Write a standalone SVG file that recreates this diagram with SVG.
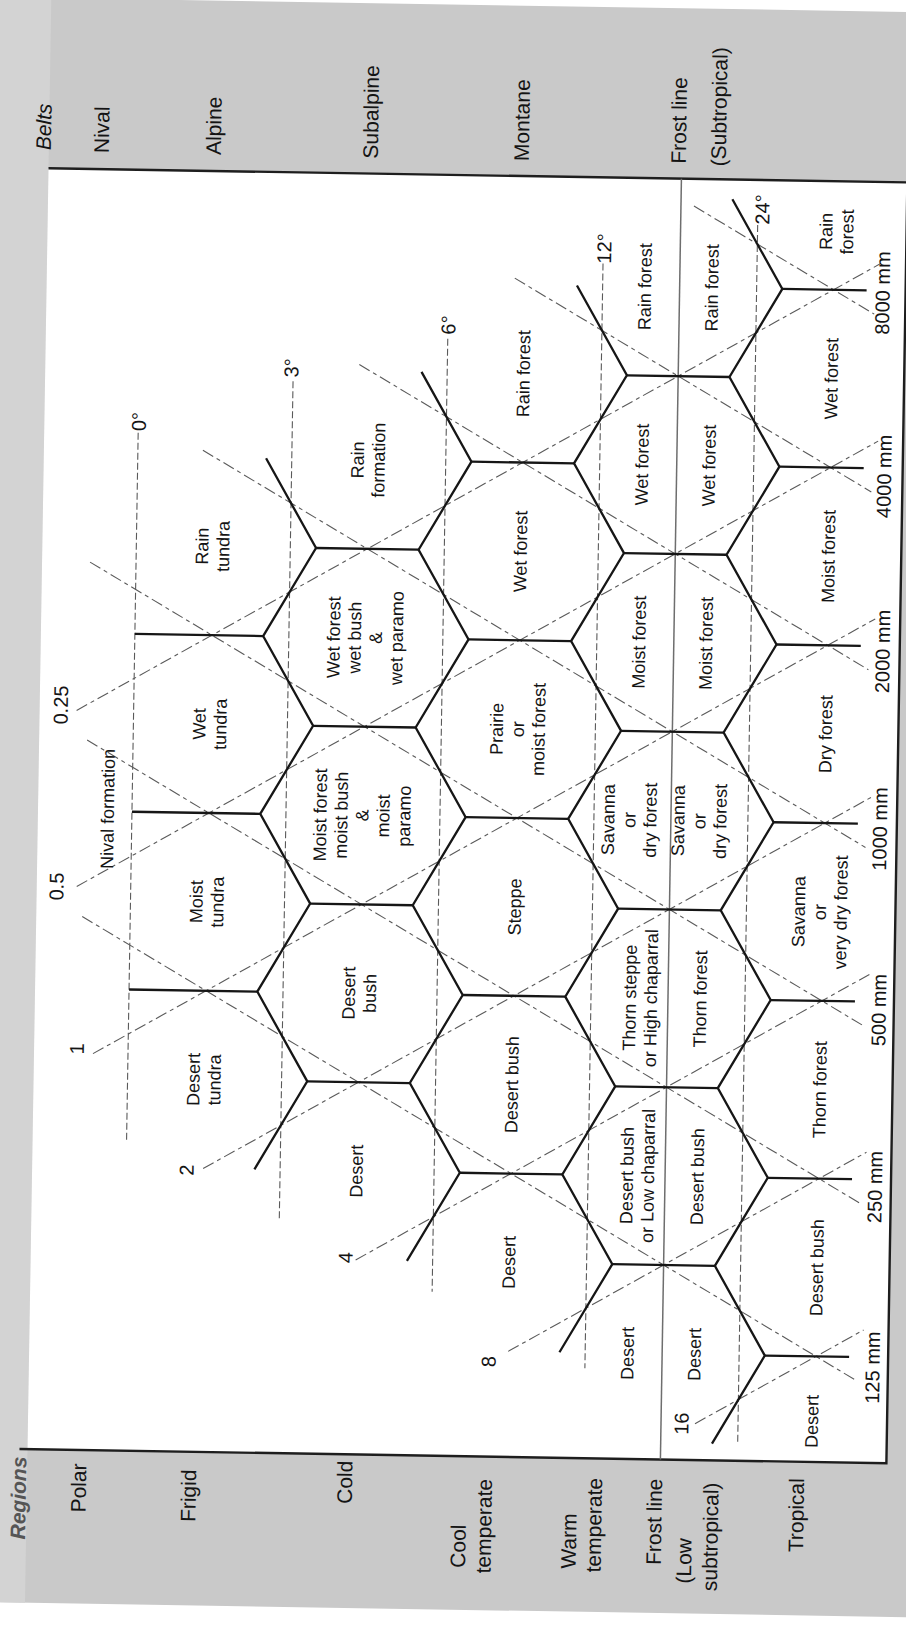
<svg xmlns="http://www.w3.org/2000/svg" width="906" height="1625" viewBox="0 0 906 1625">
<defs>
<style>
.edge{fill:none;stroke:#161616;stroke-width:2.3;stroke-linecap:butt;stroke-linejoin:miter}
.dg{fill:none;stroke:#5a5a5a;stroke-width:1.1;stroke-dasharray:12 4 4 4}
.dt{fill:none;stroke:#5a5a5a;stroke-width:1.1;stroke-dasharray:7 3}
.frost{fill:none;stroke:#6e6e6e;stroke-width:1.5}
.frame{fill:none;stroke:#1e1e1e;stroke-width:2.4}
text{font-family:"Liberation Sans",Arial,sans-serif;fill:#141414}
.l{font-size:18px;text-anchor:middle}
.n{font-size:20px;text-anchor:middle}
.b{font-size:21px;text-anchor:start}
.r{font-size:21px;text-anchor:middle}
.it{font-style:italic}
.bi{font-style:italic;font-weight:bold;fill:#555555}
</style>
</defs>
<rect x="0" y="0" width="906" height="1625" fill="#ffffff"/>
<g transform="rotate(0.94 453 812)">
<g id="background">
<rect x="-60" y="4.6" width="1030" height="1605" fill="#c9c9c9"/>
<rect x="-60" y="4.6" width="98" height="1605" fill="#d3d3d3"/>
<rect x="38" y="175" width="859" height="1281" fill="#ffffff"/>
<path class="frame" d="M38 175 H897 V1456 H30"/>
</g>

<g id="connectors">
<g id="temperature-lines">
<path class="dt" d="M132 438 V1145"/>
<path class="dt" d="M286 384 V1221"/>
<path class="dt" d="M440 339 V1292"/>
<path class="dt" d="M594 261 V1366"/>
<path class="dt" d="M748 220 V1440"/>
</g>
<g id="pet-lines">
<path class="dg" d="M75 716.6 L872 256.4"/>
<path class="dg" d="M78 892.6 L872 434.2"/>
<path class="dg" d="M97 1059.5 L872 612.0"/>
<path class="dg" d="M209 1172.6 L872 789.8"/>
<path class="dg" d="M363 1261.5 L872 967.6"/>
<path class="dg" d="M517 1350.4 L872 1145.4"/>
<path class="dg" d="M705 1419.6 L872 1323.2"/>
</g>
<g id="precipitation-lines">
<path class="dg" d="M684 202.2 L866 307.3"/>
<path class="dg" d="M506 277.2 L866 485.1"/>
<path class="dg" d="M352 366.1 L866 662.9"/>
<path class="dg" d="M197 454.4 L866 840.7"/>
<path class="dg" d="M86 568.1 L866 1018.5"/>
<path class="dg" d="M86 746 L866 1196.3"/>
<path class="dg" d="M84 922.6 L866 1374.1"/>
</g>
<path id="frost-line" class="frost" d="M671 175 V1456"/>
</g>

<g id="hexagon-edges">
<path class="edge" d="M132 639.2 H260.3 M132 817 H260.3 M132 994.8 H260.3"/>
<path class="edge" d="M260.3 461.4 L311.7 550.3 L260.3 639.2 L311.7 728.1 L260.3 817 L311.7 905.9 L260.3 994.8 L311.7 1083.7 L260.3 1172.6"/>
<path class="edge" d="M311.7 550.3 H414.3 M311.7 728.1 H414.3 M311.7 905.9 H414.3 M311.7 1083.7 H414.3"/>
<path class="edge" d="M414.3 372.5 L465.7 461.4 L414.3 550.3 L465.7 639.2 L414.3 728.1 L465.7 817 L414.3 905.9 L465.7 994.8 L414.3 1083.7 L465.7 1172.6 L414.3 1261.5"/>
<path class="edge" d="M465.7 461.4 H568.3 M465.7 639.2 H568.3 M465.7 817 H568.3 M465.7 994.8 H568.3 M465.7 1172.6 H568.3"/>
<path class="edge" d="M568.3 283.6 L619.7 372.5 L568.3 461.4 L619.7 550.3 L568.3 639.2 L619.7 728.1 L568.3 817 L619.7 905.9 L568.3 994.8 L619.7 1083.7 L568.3 1172.6 L619.7 1261.5 L568.3 1350.4"/>
<path class="edge" d="M619.7 372.5 H722.3 M619.7 550.3 H722.3 M619.7 728.1 H722.3 M619.7 905.9 H722.3 M619.7 1083.7 H722.3 M619.7 1261.5 H722.3"/>
<path class="edge" d="M722.3 194.7 L773.7 283.6 L722.3 372.5 L773.7 461.4 L722.3 550.3 L773.7 639.2 L722.3 728.1 L773.7 817 L722.3 905.9 L773.7 994.8 L722.3 1083.7 L773.7 1172.6 L722.3 1261.5 L773.7 1350.4 L722.3 1439.3"/>
<path class="edge" d="M773.7 283.6 H858 M773.7 461.4 H858 M773.7 639.2 H858 M773.7 817 H858 M773.7 994.8 H858 M773.7 1172.6 H858 M773.7 1350.4 H858"/>
</g>

<g id="belts">
<text class="b it" transform="translate(40,157) rotate(-90)">Belts</text>
<text class="b" transform="translate(98,159) rotate(-90)">Nival</text>
<text class="b" transform="translate(210,159) rotate(-90)">Alpine</text>
<text class="b" transform="translate(367,160) rotate(-90)">Subalpine</text>
<text class="b" transform="translate(518,160) rotate(-90)">Montane</text>
<text class="b" transform="translate(675,160) rotate(-90)">Frost line</text>
<text class="b" transform="translate(715,162) rotate(-90)">(Subtropical)</text>
</g>

<g id="regions">
<text class="r bi" transform="translate(37,1505) rotate(-90)">Regions</text>
<text class="r" transform="translate(97,1494) rotate(-90)">Polar</text>
<text class="r" transform="translate(207,1500) rotate(-90)">Frigid</text>
<text class="r" transform="translate(363,1484) rotate(-90)">Cold</text>
<text class="r" transform="translate(477.5,1546) rotate(-90)">Cool</text>
<text class="r" transform="translate(503,1525.5) rotate(-90)">temperate</text>
<text class="r" transform="translate(588,1539) rotate(-90)">Warm</text>
<text class="r" transform="translate(613,1522.7) rotate(-90)">temperate</text>
<text class="r" transform="translate(673,1518.4) rotate(-90)">Frost line</text>
<text class="r" transform="translate(703.5,1557) rotate(-90)">(Low</text>
<text class="r" transform="translate(729.5,1532.5) rotate(-90)">subtropical)</text>
<text class="r" transform="translate(815,1509.4) rotate(-90)">Tropical</text>
</g>

<g id="scale-labels">
<text class="n" transform="translate(66.2,711.4) rotate(-90)">0.25</text>
<text class="n" transform="translate(64.7,893) rotate(-90)">0.5</text>
<text class="n" transform="translate(87.9,1055) rotate(-90)">1</text>
<text class="n" transform="translate(199.6,1174.4) rotate(-90)">2</text>
<text class="n" transform="translate(359.8,1259.3) rotate(-90)">4</text>
<text class="n" transform="translate(504.5,1361) rotate(-90)">8</text>
<text class="n" transform="translate(698.5,1419.8) rotate(-90)">16</text>
<text class="n" transform="translate(139.6,426.8) rotate(-90)">0°</text>
<text class="n" transform="translate(291.2,370.6) rotate(-90)">3°</text>
<text class="n" transform="translate(447.5,325.1) rotate(-90)">6°</text>
<text class="n" transform="translate(602,246) rotate(-90)">12°</text>
<text class="n" transform="translate(759.5,204.5) rotate(-90)">24°</text>
<text class="n" transform="translate(881,286) rotate(-90)">8000 mm</text>
<text class="n" transform="translate(885.5,469.4) rotate(-90)">4000 mm</text>
<text class="n" transform="translate(887,644.5) rotate(-90)">2000 mm</text>
<text class="n" transform="translate(887,822) rotate(-90)">1000 mm</text>
<text class="n" transform="translate(889,1003) rotate(-90)">500 mm</text>
<text class="n" transform="translate(888,1180) rotate(-90)">250 mm</text>
<text class="n" transform="translate(888.6,1360.6) rotate(-90)">125 mm</text>
</g>

<g id="zones">
<g id="nival-formation"><text class="l" transform="translate(108.5,814.6) rotate(-90)"><tspan x="0" y="5.5">Nival formation</tspan></text></g>
<g id="rain-tundra"><text class="l" transform="translate(209,550.3) rotate(-90)"><tspan x="0" y="-5">Rain</tspan><tspan x="0" y="16">tundra</tspan></text></g>
<g id="wet-tundra"><text class="l" transform="translate(209,728.1) rotate(-90)"><tspan x="0" y="-5">Wet</tspan><tspan x="0" y="16">tundra</tspan></text></g>
<g id="moist-tundra"><text class="l" transform="translate(209,905.9) rotate(-90)"><tspan x="0" y="-5">Moist</tspan><tspan x="0" y="16">tundra</tspan></text></g>
<g id="desert-tundra"><text class="l" transform="translate(209,1083.7) rotate(-90)"><tspan x="0" y="-5">Desert</tspan><tspan x="0" y="16">tundra</tspan></text></g>

<g id="rain-formation"><text class="l" transform="translate(363,461.4) rotate(-90)"><tspan x="0" y="-5">Rain</tspan><tspan x="0" y="16">formation</tspan></text></g>
<g id="wet-forest-bush-paramo"><text class="l" transform="translate(363,639.2) rotate(-90)"><tspan x="0" y="-26">Wet forest</tspan><tspan x="0" y="-5">wet bush</tspan><tspan x="0" y="16">&amp;</tspan><tspan x="0" y="37">wet paramo</tspan></text></g>
<g id="moist-forest-bush-paramo"><text class="l" transform="translate(363,817) rotate(-90)"><tspan x="0" y="-36.5">Moist forest</tspan><tspan x="0" y="-15.5">moist bush</tspan><tspan x="0" y="5.5">&amp;</tspan><tspan x="0" y="26.5">moist</tspan><tspan x="0" y="47.5">paramo</tspan></text></g>
<g id="desert-bush-cold"><text class="l" transform="translate(363,994.8) rotate(-90)"><tspan x="0" y="-5">Desert</tspan><tspan x="0" y="16">bush</tspan></text></g>
<g id="desert-cold"><text class="l" transform="translate(363,1172.6) rotate(-90)"><tspan x="0" y="5.5">Desert</tspan></text></g>

<g id="rain-forest-cool"><text class="l" transform="translate(517,372.5) rotate(-90)"><tspan x="0" y="5.5">Rain forest</tspan></text></g>
<g id="wet-forest-cool"><text class="l" transform="translate(517,550.3) rotate(-90)"><tspan x="0" y="5.5">Wet forest</tspan></text></g>
<g id="prairie"><text class="l" transform="translate(517,728.1) rotate(-90)"><tspan x="0" y="-15.5">Prairie</tspan><tspan x="0" y="5.5">or</tspan><tspan x="0" y="26.5">moist forest</tspan></text></g>
<g id="steppe"><text class="l" transform="translate(517,905.9) rotate(-90)"><tspan x="0" y="5.5">Steppe</tspan></text></g>
<g id="desert-bush-cool"><text class="l" transform="translate(517,1083.7) rotate(-90)"><tspan x="0" y="5.5">Desert bush</tspan></text></g>
<g id="desert-cool"><text class="l" transform="translate(517,1261.5) rotate(-90)"><tspan x="0" y="5.5">Desert</tspan></text></g>

<g id="rain-forest-warm"><text class="l" transform="translate(637,283.6) rotate(-90)"><tspan x="0" y="5.5">Rain forest</tspan></text></g>
<g id="wet-forest-warm"><text class="l" transform="translate(637,461.4) rotate(-90)"><tspan x="0" y="5.5">Wet forest</tspan></text></g>
<g id="moist-forest-warm"><text class="l" transform="translate(637,639.2) rotate(-90)"><tspan x="0" y="5.5">Moist forest</tspan></text></g>
<g id="savanna-warm"><text class="l" transform="translate(630,817) rotate(-90)"><tspan x="0" y="-15.5">Savanna</tspan><tspan x="0" y="5.5">or</tspan><tspan x="0" y="26.5">dry forest</tspan></text></g>
<g id="thorn-steppe"><text class="l" transform="translate(644,994.8) rotate(-90)"><tspan x="0" y="-5">Thorn steppe</tspan><tspan x="0" y="16">or High chaparral</tspan></text></g>
<g id="desert-bush-warm"><text class="l" transform="translate(644,1172.6) rotate(-90)"><tspan x="0" y="-5">Desert bush</tspan><tspan x="0" y="16">or Low chaparral</tspan></text></g>
<g id="desert-warm"><text class="l" transform="translate(637,1350.4) rotate(-90)"><tspan x="0" y="5.5">Desert</tspan></text></g>

<g id="rain-forest-subtropical"><text class="l" transform="translate(704,283.6) rotate(-90)"><tspan x="0" y="5.5">Rain forest</tspan></text></g>
<g id="wet-forest-subtropical"><text class="l" transform="translate(704,461.4) rotate(-90)"><tspan x="0" y="5.5">Wet forest</tspan></text></g>
<g id="moist-forest-subtropical"><text class="l" transform="translate(704,639.2) rotate(-90)"><tspan x="0" y="5.5">Moist forest</tspan></text></g>
<g id="savanna-subtropical"><text class="l" transform="translate(700,817) rotate(-90)"><tspan x="0" y="-15.5">Savanna</tspan><tspan x="0" y="5.5">or</tspan><tspan x="0" y="26.5">dry forest</tspan></text></g>
<g id="thorn-forest-subtropical"><text class="l" transform="translate(704,994.8) rotate(-90)"><tspan x="0" y="5.5">Thorn forest</tspan></text></g>
<g id="desert-bush-subtropical"><text class="l" transform="translate(704,1172.6) rotate(-90)"><tspan x="0" y="5.5">Desert bush</tspan></text></g>
<g id="desert-subtropical"><text class="l" transform="translate(704,1350.4) rotate(-90)"><tspan x="0" y="5.5">Desert</tspan></text></g>

<g id="rain-forest-tropical"><text class="l" transform="translate(827.8,225.4) rotate(-90)"><tspan x="0" y="-5">Rain</tspan><tspan x="0" y="16">forest</tspan></text></g>
<g id="wet-forest-tropical"><text class="l" transform="translate(825,372.5) rotate(-90)"><tspan x="0" y="5.5">Wet forest</tspan></text></g>
<g id="moist-forest-tropical"><text class="l" transform="translate(825,550.3) rotate(-90)"><tspan x="0" y="5.5">Moist forest</tspan></text></g>
<g id="dry-forest-tropical"><text class="l" transform="translate(825,728.1) rotate(-90)"><tspan x="0" y="5.5">Dry forest</tspan></text></g>
<g id="savanna-tropical"><text class="l" transform="translate(822,906) rotate(-90)"><tspan x="0" y="-15.5">Savanna</tspan><tspan x="0" y="5.5">or</tspan><tspan x="0" y="26.5">very dry forest</tspan></text></g>
<g id="thorn-forest-tropical"><text class="l" transform="translate(825,1083.7) rotate(-90)"><tspan x="0" y="5.5">Thorn forest</tspan></text></g>
<g id="desert-bush-tropical"><text class="l" transform="translate(825,1261.5) rotate(-90)"><tspan x="0" y="5.5">Desert bush</tspan></text></g>
<g id="desert-tropical"><text class="l" transform="translate(822.5,1415.4) rotate(-90)"><tspan x="0" y="5.5">Desert</tspan></text></g>
</g>
</g>
</svg>
